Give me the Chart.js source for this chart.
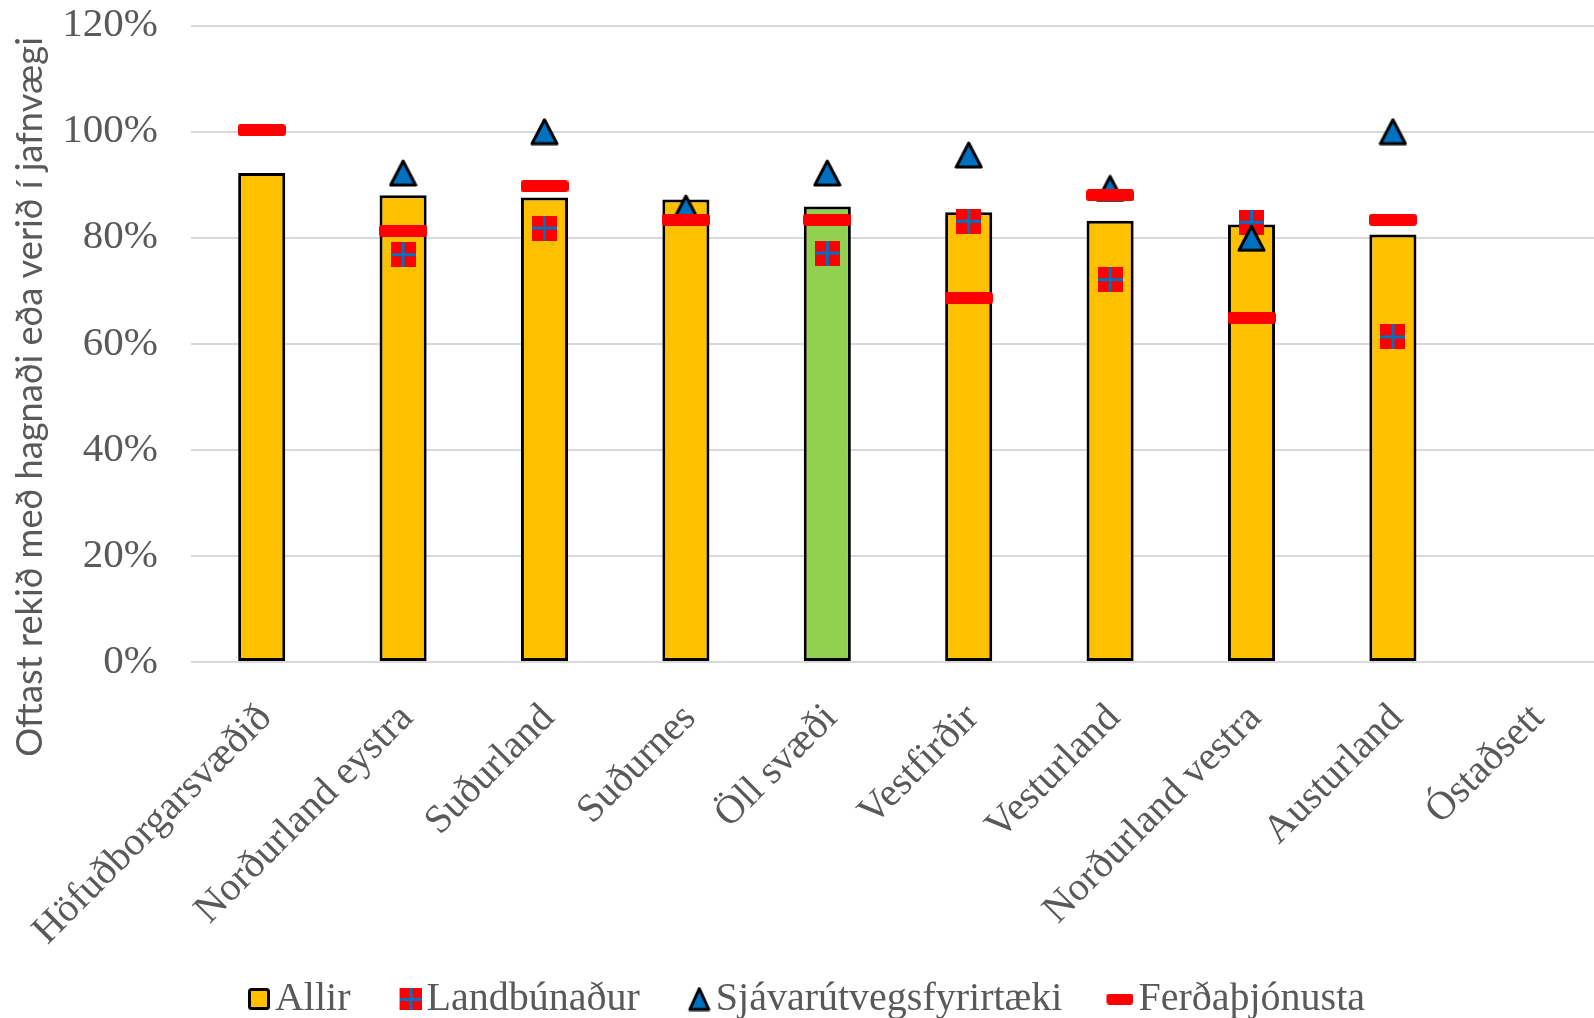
<!DOCTYPE html>
<html><head><meta charset="utf-8">
<script src="https://cdn.jsdelivr.net/npm/chart.js@4.4.1/dist/chart.umd.min.js"></script>
<style>html,body{margin:0;padding:0;background:#fff;overflow:hidden}#wrap{position:relative;width:1618px;height:1018px}</style>
</head><body><div id="wrap"><canvas id="c"></canvas></div>
<script>
const categories = ['Höfuðborgarsvæðið','Norðurland eystra','Suðurland','Suðurnes','Öll svæði','Vestfirðir','Vesturland','Norðurland vestra','Austurland','Óstaðsett'];
const allir          = [92.2, 88.0, 87.6, 87.2, 85.9, 84.8, 83.2, 82.5, 80.6, null];
const landbunadur    = [null, 76.8, 81.8, null, 77.1, 83.1, 72.1, 82.9, 61.3, null];
const sjavarutvegur  = [null, 92.2, 100.0, 85.6, 92.2, 95.6, 89.3, 79.9, 100.0, null];
const ferdathjonusta = [100.3, 81.3, 89.7, 83.4, 83.4, 68.6, 88.0, 64.9, 83.4, null];
const seriesNames = ['Allir','Landbúnaður','Sjávarútvegsfyrirtæki','Ferðaþjónusta'];
const yMin = 0, yMax = 120, yStep = 20;
const yTitle = 'Oftast rekið með hagnaði eða verið í jafnvægi';

const YELLOW = '#FFC000', GREEN = '#92D050', RED = '#FF0000', BLUE = '#0070C0', TXT = '#595959';

function mk(w, h, fn){ const c = document.createElement('canvas'); c.width = w; c.height = h; fn(c.getContext('2d'), w, h); return c; }
function crossImg(s){ return mk(s, s, (ctx)=>{ ctx.fillStyle = RED; ctx.fillRect(0,0,s,s); ctx.fillStyle = BLUE; const t = 3, m = Math.round(s/2 - t/2); ctx.fillRect(m,0,t,s); ctx.fillRect(0,m,s,t); }); }
function triImg(w, h){ return mk(w, h, (ctx)=>{ ctx.beginPath(); ctx.moveTo(w/2, 2); ctx.lineTo(w-2, h-2); ctx.lineTo(2, h-2); ctx.closePath(); ctx.fillStyle = BLUE; ctx.fill(); ctx.lineWidth = 3; ctx.lineJoin = 'round'; ctx.strokeStyle = '#000'; ctx.stroke(); }); }
function dashImg(w, h){ return mk(w, h, (ctx)=>{ ctx.beginPath(); ctx.roundRect(0,0,w,h,3); ctx.fillStyle = RED; ctx.fill(); }); }
function boxImg(s){ return mk(s, s, (ctx)=>{ ctx.beginPath(); ctx.roundRect(1.5,1.5,s-3,s-3,2); ctx.fillStyle = YELLOW; ctx.fill(); ctx.lineWidth = 3; ctx.strokeStyle = '#000'; ctx.stroke(); }); }

// Legend geometry: image is centred at box centre; marker is placed so its right edge sits 5px before text.
const LG_FONT = 40, LG_BOXW = 46;
const LG_RIGHT_OFF = LG_BOXW / 2 + LG_FONT / 2 - 5;
function legendImg(img){ const L = 2 * LG_RIGHT_OFF; return mk(L, img.height, (ctx)=>{ ctx.drawImage(img, L - img.width, 0); }); }

const ptCross = crossImg(25), ptTri = triImg(29, 28), ptDash = dashImg(48, 12);
const lgImgs = [legendImg(boxImg(22)), legendImg(crossImg(22)), legendImg(triImg(23, 25)), legendImg(dashImg(27, 11))];

const yTitlePlugin = {
  id: 'yTitle',
  afterDraw(chart){
    const ctx = chart.ctx; ctx.save();
    ctx.font = '36px Lato'; const w = ctx.measureText(yTitle).width; const size = 36 * 720 / w;
    ctx.font = size + 'px Lato';
    ctx.translate(30.5, 397); ctx.rotate(-Math.PI/2);
    ctx.textAlign = 'center'; ctx.textBaseline = 'middle'; ctx.fillStyle = TXT;
    ctx.fillText(yTitle, 0, 0); ctx.restore();
  }
};

new Chart(document.getElementById('c'), {
  type: 'bar',
  data: {
    labels: categories,
    datasets: [
      { label: seriesNames[0], data: allir, order: 4,
        backgroundColor: categories.map(c => c === 'Öll svæði' ? GREEN : YELLOW),
        borderColor: '#000', borderWidth: 3, borderSkipped: false,
        barPercentage: 0.333, categoryPercentage: 1 },
      { type: 'line', label: seriesNames[1], data: landbunadur, order: 3, showLine: false, pointStyle: ptCross, pointRadius: 12 },
      { type: 'line', label: seriesNames[2], data: sjavarutvegur, order: 2, showLine: false, pointStyle: ptTri, pointRadius: 12 },
      { type: 'line', label: seriesNames[3], data: ferdathjonusta, order: 1, showLine: false, pointStyle: ptDash, pointRadius: 12 }
    ]
  },
  options: {
    responsive: true, maintainAspectRatio: false, animation: false, devicePixelRatio: 1,
    layout: { padding: { left: -37, right: 7, top: 24, bottom: -11 } },
    scales: {
      x: {
        offset: true,
        grid: { display: false, drawTicks: false }, border: { display: false },
        ticks: { autoSkip: false, minRotation: 45, maxRotation: 45, labelOffset: 4, padding: 33,
                 color: TXT, font: { family: 'Liberation Serif', size: 40 } },
        afterFit(s){ s.height = 307; s.paddingLeft = 0; s.paddingRight = 0; }
      },
      y: {
        min: yMin, max: yMax,
        grid: { color: '#D9D9D9', lineWidth: 2, drawTicks: true, tickLength: 32, tickColor: 'rgba(0,0,0,0)' },
        border: { display: false },
        ticks: { stepSize: yStep, padding: 1, color: TXT, font: { family: 'Liberation Serif', size: 41 },
                 callback: v => v + '%' },
        afterFit(s){ s.width = 228; }
      }
    },
    plugins: {
      tooltip: { enabled: false },
      legend: {
        position: 'bottom', align: 'center',
        labels: {
          usePointStyle: true, pointStyleWidth: LG_BOXW, padding: 10, color: TXT,
          font: { family: 'Liberation Serif', size: LG_FONT },
          generateLabels(chart){
            return seriesNames.map((n, i) => ({ text: n, datasetIndex: i, pointStyle: lgImgs[i], fillStyle: 'transparent', strokeStyle: 'transparent', lineWidth: 0, hidden: false, fontColor: TXT }));
          }
        }
      }
    }
  },
  plugins: [yTitlePlugin]
});
</script></body></html>
